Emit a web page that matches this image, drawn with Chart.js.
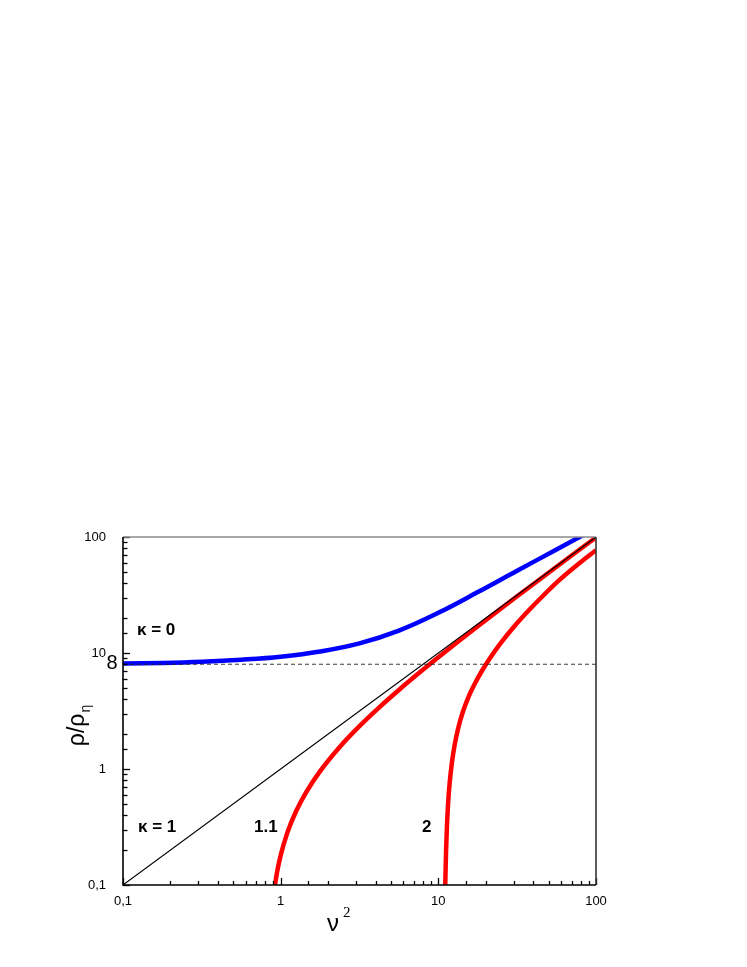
<!DOCTYPE html>
<html>
<head>
<meta charset="utf-8">
<script src="https://cdn.jsdelivr.net/npm/chart.js@4"></script>
<style>
html,body{margin:0;padding:0;background:#fff;}
canvas{display:block;}
</style>
</head>
<body>
<canvas id="c" width="747" height="967"></canvas>
<script>
// ---- data ----
const kappa0_nu2 = [0.1, 0.178, 0.316, 0.562, 1, 1.78, 3.16, 5.62, 10, 17.8, 31.6, 56.2, 100];
const kappa0_rho = [8.1, 8.2, 8.4, 8.75, 9.3, 10.3, 12.1, 15.6, 22.2, 33.5, 51.2, 78, 119];

const kappa11_nu2 = [0.92, 0.95, 1.0, 1.1, 1.25, 1.45, 1.78, 2.37, 3.16, 4.22, 5.62, 7.5, 10, 13.3, 17.8, 23.7, 31.6, 42.2, 56.2, 75, 100];
const kappa11_rho = [0.1, 0.13, 0.18, 0.28, 0.43, 0.63, 0.96, 1.55, 2.34, 3.4, 4.8, 6.68, 9.18, 12.5, 17.0, 22.9, 30.8, 41.4, 55.4, 74.2, 99.2];

const kappa2_nu2 = [11.02, 11.1, 11.2, 11.35, 11.55, 11.8, 12.2, 12.7, 13.4, 14.3, 15.5, 17, 19, 21.5, 25, 30, 37, 46, 58, 75, 100];
const kappa2_rho = [0.08, 0.12, 0.2, 0.33, 0.52, 0.76, 1.14, 1.62, 2.28, 3.1, 4.15, 5.4, 7.1, 9.25, 12.3, 16.7, 22.9, 31.0, 42.0, 56.5, 77];

const kappa1_nu2 = [0.1, 100];
const kappa1_rho = [0.1, 100];

const refLevel_nu2 = [0.1, 100];
const refLevel_rho = [8, 8];

const xTickLabels = {"0.1": "0,1", "1": "1", "10": "10", "100": "100"};
const yTickLabels = {"0.1": "0,1", "1": "1", "10": "10", "100": "100"};

const curveLabels = [
  {text: "\u03BA = 0", x: 137, y: 629},
  {text: "\u03BA = 1", x: 138, y: 826},
  {text: "1.1", x: 254, y: 826},
  {text: "2", x: 422, y: 826}
];

function pts(xs, ys){ return xs.map((x,i)=>({x:x, y:ys[i]})); }
function decadeKey(v){
  const l = Math.log10(v);
  if (Math.abs(l - Math.round(l)) < 1e-6) {
    const e = Math.round(l);
    return e < 0 ? "0.1" : String(Math.round(Math.pow(10, e)));
  }
  return null;
}

const FONT = "'Liberation Sans', Arial, sans-serif";

const framePlugin = {
  id: 'frame',
  afterDatasetsDraw(chart){
    const ctx = chart.ctx, a = chart.chartArea;
    const xs = chart.scales.x, ys = chart.scales.y;
    ctx.save();
    // ticks inward
    ctx.strokeStyle = '#000';
    ctx.lineWidth = 1.3;
    ys.ticks.forEach(t=>{
      const p = Math.round(ys.getPixelForValue(t.value)) + 0.5;
      const major = decadeKey(t.value) !== null;
      ctx.beginPath(); ctx.moveTo(a.left, p); ctx.lineTo(a.left + (major ? 7 : 4.5), p); ctx.stroke();
    });
    xs.ticks.forEach(t=>{
      const p = Math.round(xs.getPixelForValue(t.value)) + 0.5;
      const major = decadeKey(t.value) !== null;
      ctx.beginPath(); ctx.moveTo(p, a.bottom); ctx.lineTo(p, a.bottom - (major ? 7 : 4)); ctx.stroke();
    });
    // frame
    ctx.lineWidth = 1.6;
    ctx.strokeStyle = '#8a8a8a';
    ctx.beginPath(); ctx.moveTo(a.left, a.top); ctx.lineTo(a.right, a.top); ctx.stroke();
    ctx.strokeStyle = '#333';
    ctx.beginPath(); ctx.moveTo(a.right, a.top); ctx.lineTo(a.right, a.bottom); ctx.stroke();
    ctx.strokeStyle = '#000';
    ctx.beginPath(); ctx.moveTo(a.left, a.top); ctx.lineTo(a.left, a.bottom); ctx.lineTo(a.right, a.bottom); ctx.stroke();

    // curve labels
    ctx.fillStyle = '#000';
    ctx.textBaseline = 'alphabetic';
    ctx.textAlign = 'left';
    ctx.font = "bold 17px " + FONT;
    curveLabels.forEach(l=>{ ctx.fillText(l.text, l.x, l.y + 6); });

    // "8" label next to reference level
    ctx.font = "20px " + FONT;
    ctx.textAlign = 'center';
    ctx.textBaseline = 'middle';
    ctx.fillText("8", 112, ys.getPixelForValue(8) - 1);

    // y axis title rho/rho_eta (rotated)
    ctx.save();
    ctx.translate(84, 726);
    ctx.rotate(-Math.PI/2);
    ctx.textAlign = 'left';
    ctx.textBaseline = 'alphabetic';
    ctx.font = "23px " + FONT;
    const main = "\u03C1/\u03C1";
    const w = ctx.measureText(main).width;
    ctx.font = "14px " + FONT;
    const ws = ctx.measureText("\u03B7").width;
    const start = -(w + ws)/2;
    ctx.font = "23px " + FONT;
    ctx.fillText(main, start, 0);
    ctx.font = "14px " + FONT;
    ctx.fillText("\u03B7", start + w + 1, 6);
    ctx.restore();

    // x axis title nu^2
    ctx.textAlign = 'left';
    ctx.textBaseline = 'alphabetic';
    ctx.font = "24px " + FONT;
    ctx.fillText("\u03BD", 327, 931);
    ctx.font = "15px 'Liberation Serif', 'Times New Roman', serif";
    ctx.fillText("2", 343, 917);
    ctx.restore();
  }
};

const ds = (xs, ys, color, width, dash, smooth) => ({
  data: pts(xs, ys),
  borderColor: color,
  backgroundColor: color,
  borderWidth: width,
  borderDash: dash || [],
  pointRadius: 0,
  fill: false,
  clip: 0,
  cubicInterpolationMode: smooth === 'bezier' ? 'default' : 'monotone',
  tension: smooth === 'bezier' ? 0.4 : 0
});

new Chart(document.getElementById('c'), {
  type: 'line',
  data: {
    datasets: [
      ds(refLevel_nu2, refLevel_rho, '#222', 0.9, [4, 3]),
      ds(kappa1_nu2, kappa1_rho, '#000', 1.1),
      ds(kappa0_nu2, kappa0_rho, '#0000ff', 4.5, null, 'bezier'),
      ds(kappa11_nu2, kappa11_rho, '#ff0000', 4.5),
      ds(kappa2_nu2, kappa2_rho, '#ff0000', 4.5)
    ]
  },
  options: {
    responsive: false,
    animation: false,
    devicePixelRatio: 1,
    layout: {padding: {top: 537, left: 0, right: 151, bottom: 0}},
    plugins: {legend: {display: false}, tooltip: {enabled: false}},
    scales: {
      x: {
        type: 'logarithmic', min: 0.1, max: 100,
        grid: {display: false, drawTicks: false},
        border: {display: false},
        ticks: {
          autoSkip: false, maxRotation: 0, padding: 9,
          color: '#000', font: {family: FONT, size: 13},
          callback: (v)=>{ const k = decadeKey(v); return k ? xTickLabels[k] : ''; }
        },
        afterFit: (s)=>{ s.height = 82; }
      },
      y: {
        type: 'logarithmic', min: 0.1, max: 100,
        grid: {display: false, drawTicks: false},
        border: {display: false},
        ticks: {
          autoSkip: false, padding: 17,
          color: '#000', font: {family: FONT, size: 13},
          callback: (v)=>{ const k = decadeKey(v); return k ? yTickLabels[k] : ''; }
        },
        afterFit: (s)=>{ s.width = 123; }
      }
    }
  },
  plugins: [framePlugin]
});
</script>
</body>
</html>
